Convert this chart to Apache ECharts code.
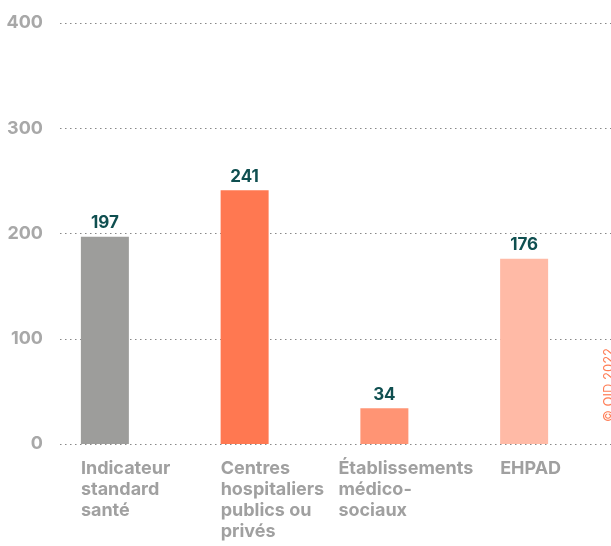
<!DOCTYPE html>
<html>
<head>
<meta charset="utf-8">
<script src="https://cdn.jsdelivr.net/npm/echarts@6/dist/echarts.min.js"></script>
<style>
  html, body { margin: 0; padding: 0; background: #fff; }
  #chart { width: 611px; height: 546px; }
</style>
</head>
<body>
<div id="chart"></div>
<script>
const categories = ['Indicateur\nstandard\nsanté', 'Centres\nhospitaliers\npublics ou\nprivés', 'Établissements\nmédico-\nsociaux', 'EHPAD'];
const values = [197, 241, 34, 176];
const barColors = ['#9d9d9b', '#ff7851', '#ff9474', '#ffbaa6'];

const chart = echarts.init(document.getElementById('chart'));

const gridTop = 23, gridBottom = 102;
const font = 'Inter, "Noto Sans", sans-serif';

const labelStyle = {
  color: '#a0a0a0', fontWeight: 'bold', fontSize: 18, lineHeight: 21,
  fontFamily: font, align: 'left'
};

const option = {
  animation: false,
  grid: [
    { left: 35, right: 17, top: gridTop, bottom: gridBottom },   // bars + labels
    { left: 60, right: 0, top: gridTop, bottom: gridBottom }     // y axis + dotted lines
  ],
  xAxis: [
    {
      type: 'category', gridIndex: 0, data: categories,
      axisLine: { show: false }, axisTick: { show: false },
      axisLabel: {
        interval: 0, margin: 14, align: 'center',
        formatter: (v, i) => v.split('\n').map(s => (i === 2 ? '{w|' : '{n|') + s + '}').join('\n'),
        rich: {
          n: Object.assign({ width: 48 }, labelStyle),
          w: Object.assign({ width: 92 }, labelStyle)
        }
      }
    },
    { type: 'category', gridIndex: 1, data: categories, show: false }
  ],
  yAxis: [
    { type: 'value', gridIndex: 0, min: 0, max: 400, interval: 100, show: false },
    {
      type: 'value', gridIndex: 1, min: 0, max: 400, interval: 100,
      axisLine: { show: false }, axisTick: { show: false },
      splitLine: { lineStyle: { type: [1.5, 3.5], color: '#888', width: 1.2 } },
      axisLabel: {
        margin: 17, color: '#a8a8a8', fontWeight: 'bold', fontSize: 18,
        fontFamily: font
      }
    }
  ],
  series: [{
    type: 'bar',
    xAxisIndex: 0,
    yAxisIndex: 0,
    barWidth: 48,
    z: 3,
    data: values.map((v, i) => ({ value: v, itemStyle: { color: barColors[i] } })),
    label: {
      show: true, position: 'top', distance: 5,
      color: '#0f4f50', fontWeight: 'bold', fontSize: 17,
      fontFamily: font
    }
  }],
  graphic: [{
    type: 'text',
    left: 603,
    top: 348,
    rotation: Math.PI / 2,
    style: {
      text: '© OID 2022',
      fill: '#ff7d55',
      font: '13px Inter, "Noto Sans", sans-serif'
    }
  }]
};

chart.setOption(option);
</script>
</body>
</html>
